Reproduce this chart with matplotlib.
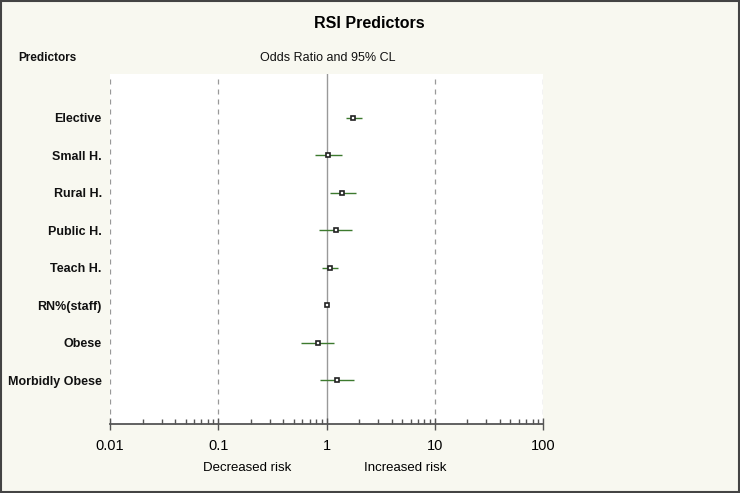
import matplotlib
matplotlib.use("Agg")
import matplotlib.pyplot as plt
from matplotlib.patches import Rectangle
import numpy as np

predictors = ["Elective", "Small H.", "Rural H.", "Public H.", "Teach H.",
              "RN%(staff)", "Obese", "Morbidly Obese"]
odds_ratio = [1.77, 1.04, 1.39, 1.22, 1.08, 1.00, 0.84, 1.26]
lower_cl = [1.51, 0.79, 1.07, 0.85, 0.91, 0.985, 0.58, 0.88]
upper_cl = [2.11, 1.38, 1.87, 1.73, 1.29, 1.015, 1.18, 1.81]
xticks = [0.01, 0.1, 1, 10, 100]
xtick_labels = ["0.01", "0.1", "1", "10", "100"]

bg = "#f8f8f0"
fig = plt.figure(figsize=(7.4, 4.93), dpi=100, facecolor=bg)
fig.patches.append(Rectangle((0.002, 0.003), 0.996, 0.994, transform=fig.transFigure,
                             fill=False, edgecolor="#444444", linewidth=1.5))

ax = fig.add_axes([110/740, 69/493, 433/740, 350/493])
ax.set_facecolor("white")
ax.set_xscale("log")
ax.set_xlim(0.01, 100)
n = len(predictors)
y = np.arange(n)
ax.set_ylim(n - 1 + 1.175, -1.175)

for v in [0.01, 0.1, 10, 100]:
    ax.axvline(v, color="#999999", linestyle=(0, (4, 4)), linewidth=0.9, zorder=1)
ax.axvline(1, color="#999999", linewidth=1.0, zorder=1)

ax.hlines(y, lower_cl, upper_cl, color="#3d7a2e", linewidth=1.0, zorder=2)
ax.plot(odds_ratio, y, linestyle="none", marker="s", markersize=3.4,
        markerfacecolor="white", markeredgecolor="#222222", markeredgewidth=1.2, zorder=3)

for s in ["top", "right", "left"]:
    ax.spines[s].set_visible(False)
ax.spines["bottom"].set_color("#555555")
ax.spines["bottom"].set_linewidth(1.3)

ax.set_xticks(xticks)
ax.set_xticklabels(xtick_labels, fontsize=10.5, fontfamily="Liberation Sans")
ax.tick_params(axis="x", which="major", direction="inout", length=9, width=1.0,
               color="#555555", pad=6)
ax.tick_params(axis="x", which="minor", direction="in", length=3.5, width=1.0, color="#555555")
ax.set_yticks(y)
ax.set_yticklabels(predictors, fontsize=9, fontweight="bold", fontfamily="Liberation Sans",
                   color="#111111")
ax.tick_params(axis="y", length=0, pad=6)

fig.text(369/740, 1 - 23/493, "RSI Predictors", ha="center", va="center",
         fontsize=11.5, fontweight="bold", fontfamily="Liberation Sans")
fig.text(18/740, 1 - 58/493, "Predictors", ha="left", va="center",
         fontsize=8.5, fontfamily="Liberation Sans", fontweight="bold", color="#111111")
fig.text(328/740, 1 - 58/493, "Odds Ratio and 95% CL", ha="center", va="center",
         fontsize=9, fontfamily="Liberation Sans", color="#111111")
fig.text(247/740, 1 - 468/493, "Decreased risk", ha="center", va="center",
         fontsize=9.5, fontfamily="Liberation Sans")
fig.text(405/740, 1 - 468/493, "Increased risk", ha="center", va="center",
         fontsize=9.5, fontfamily="Liberation Sans")

fig.savefig("out.png", dpi=100, facecolor=bg)
